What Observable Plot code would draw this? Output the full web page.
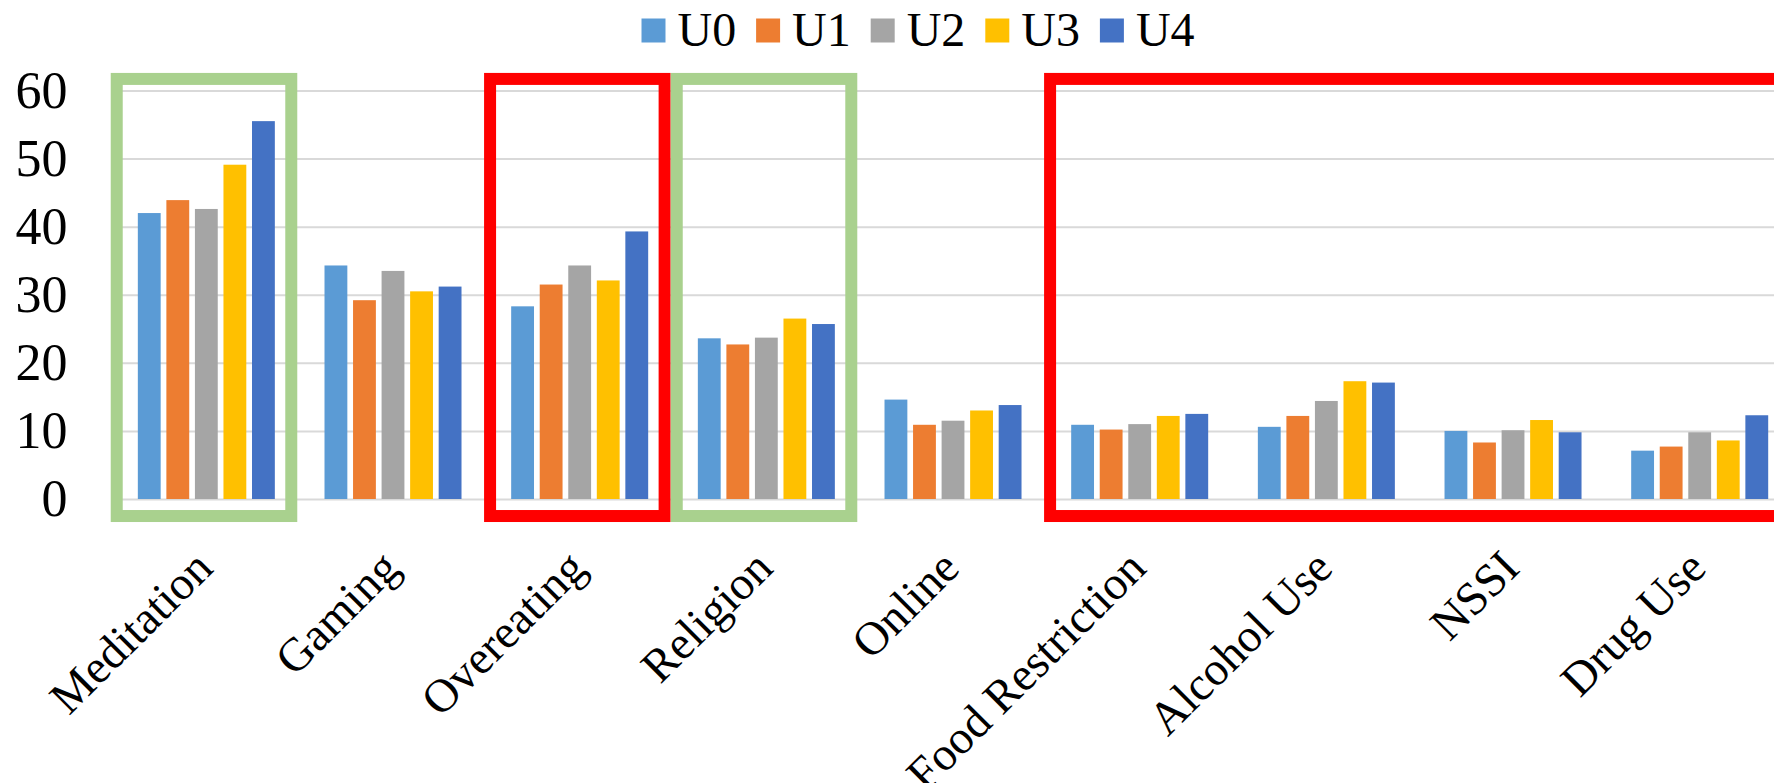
<!DOCTYPE html>
<html><head><meta charset="utf-8">
<script src="https://cdn.jsdelivr.net/npm/d3@7"></script>
<script src="https://cdn.jsdelivr.net/npm/@observablehq/plot@0.6"></script>
<style>
html,body{margin:0;padding:0;background:#fff;overflow:hidden;width:1774px;height:783px}
#legend svg,#chart svg{overflow:hidden;display:block}
</style></head><body>
<div id="legend"></div><div id="chart"></div>
<script>
const categories = ["Meditation","Gaming","Overeating","Religion","Online","Food Restriction","Alcohol Use","NSSI","Drug Use"];
const seriesNames = ["U0","U1","U2","U3","U4"];
const seriesColors = ["#5B9BD5","#ED7D31","#A5A5A5","#FFC000","#4472C4"];
const U0 = [42.0,34.3,28.3,23.6,14.6,10.9,10.6,10.0,7.1];
const U1 = [43.9,29.2,31.5,22.7,10.9,10.2,12.2,8.3,7.7];
const U2 = [42.6,33.5,34.3,23.7,11.5,11.0,14.4,10.1,9.8];
const U3 = [49.1,30.5,32.1,26.5,13.0,12.2,17.3,11.6,8.6];
const U4 = [55.5,31.2,39.3,25.7,13.8,12.5,17.1,9.8,12.3];
const yTicks = [0,10,20,30,40,50,60];
const highlightFrom = ["Meditation","Overeating","Religion","Food Restriction"];
const highlightTo = ["Meditation","Overeating","Religion","Drug Use"];
const highlightColors = ["#A9D18E","#FF0000","#A9D18E","#FF0000"];
const highlightOpenRight = [false,false,false,true];

const seriesValues = [U0,U1,U2,U3,U4];
const rows = [];
seriesNames.forEach((s, si) => categories.forEach((c, ci) => rows.push({category: c, ci, series: s, value: seriesValues[si][ci]})));
const idx = c => categories.indexOf(c);
const inner = d3.scaleBand().domain(seriesNames).range([0, 1]).paddingInner(0.2).paddingOuter(0.87);
const serif = "Liberation Serif";

// legend (swatches) as its own small SVG above the chart
const legendPlot = Plot.plot({
  width: 1774, height: 58, margin: 0,
  style: {fontFamily: serif, background: "#fff", color: "#000"},
  x: {type: "linear", domain: [0, seriesNames.length], range: [653, 653 + 114.6 * seriesNames.length], axis: null},
  color: {domain: seriesNames, range: seriesColors},
  marks: [
    Plot.dot(seriesNames, {x: (d, i) => i, fill: d => d, symbol: "square", r: 24 / Math.sqrt(Math.PI), frameAnchor: "top", dy: 30}),
    Plot.text(seriesNames, {x: (d, i) => i, text: d => d, textAnchor: "start", lineAnchor: "bottom", frameAnchor: "top", dx: 24, dy: 45, fontSize: 48, fill: "#000"})
  ]
});
document.getElementById("legend").appendChild(legendPlot);

const boxMarks = highlightFrom.map((f, i) => Plot.rect([i], {
  x1: () => idx(f) + 0.02,
  x2: () => highlightOpenRight[i] ? categories.length + 0.5 : idx(highlightTo[i]) + 1 - 0.045,
  y1: () => -2.5, y2: () => 61.7,
  fill: "none", stroke: highlightColors[i], strokeWidth: 12, strokeLinejoin: "miter"
}));

const chart = Plot.plot({
  width: 1774, height: 725,
  marginLeft: 113, marginRight: 0, marginTop: 32.5, marginBottom: 284,
  style: {fontFamily: serif, background: "#fff", color: "#000"},
  x: {type: "linear", domain: [0, categories.length], range: [113, 113 + 186.67 * categories.length], axis: null},
  y: {domain: [0, 60], label: null},
  color: {domain: seriesNames, range: seriesColors},
  marks: [
    Plot.gridY({ticks: yTicks, stroke: "#d9d9d9", strokeOpacity: 1, strokeWidth: 2}),
    Plot.rectY(rows, {
      x1: d => d.ci + inner(d.series),
      x2: d => d.ci + inner(d.series) + inner.bandwidth(),
      y: "value", fill: "series"
    }),
    ...boxMarks,
    Plot.axisY({ticks: yTicks, tickSize: 0, tickPadding: 46, fontSize: 52, fill: "#000", label: null}),
    Plot.text(categories, {
      x: (d, i) => i + 0.5, y: () => 0, text: d => d,
      rotate: -45, textAnchor: "end", lineAnchor: "bottom",
      dx: 8, dy: 71, fontSize: 47, fill: "#000"
    })
  ]
});
document.getElementById("chart").appendChild(chart);
</script>
</body></html>
